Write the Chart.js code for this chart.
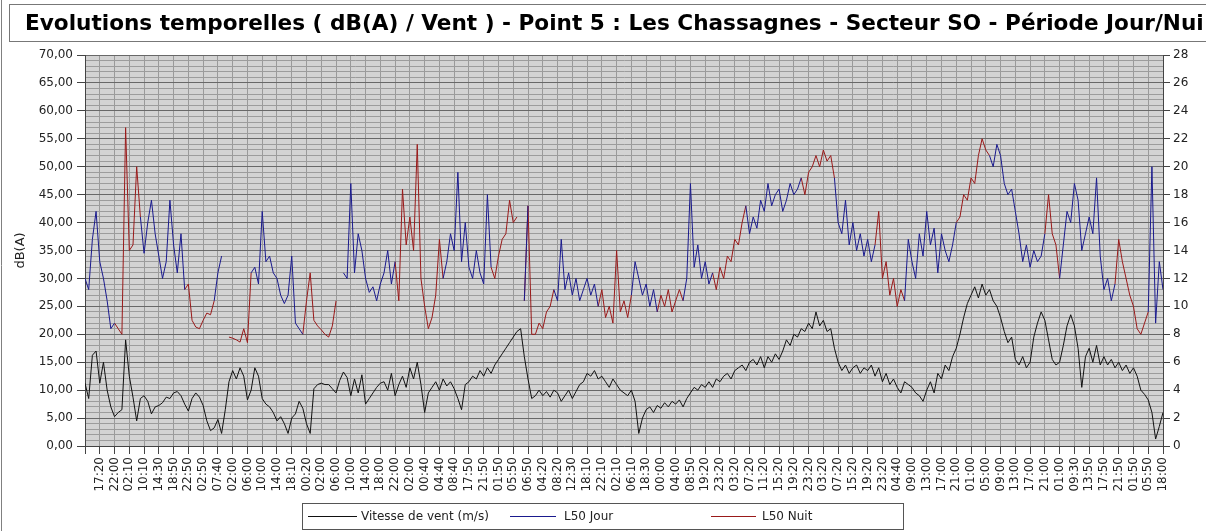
<!DOCTYPE html>
<html><head><meta charset="utf-8">
<script src="https://cdn.jsdelivr.net/npm/chart.js@4/dist/chart.umd.min.js"></script>
<style>
html,body{margin:0;padding:0;background:#fff;}
canvas{display:block;}
</style></head>
<body>
<canvas id="c" width="1206" height="531"></canvas>
<script>
const titleText = 'Evolutions temporelles ( dB(A) / Vent ) - Point 5 : Les Chassagnes - Secteur SO - Période Jour/Nuit';
const yTitle = 'dB(A)';
const legendLabels = ['Vitesse de vent (m/s)', 'L50 Jour', 'L50 Nuit'];

const tickLabels = ['17:20','22:00','02:10','10:10','14:30','18:50','22:50','02:50','07:40','02:00',
  '06:00','10:00','14:00','18:10','00:20','02:00','06:00','10:00','14:00','18:00',
  '22:00','02:00','00:40','04:40','08:40','17:50','21:50','01:50','05:50','06:50',
  '04:20','08:20','12:30','18:10','22:10','02:10','06:10','18:30','00:00','04:00',
  '08:50','19:20','23:20','03:20','07:20','11:20','15:20','19:20','23:20','03:20',
  '07:20','15:20','19:20','23:20','04:40','09:00','13:00','17:00','21:00','01:00',
  '05:00','09:00','13:00','17:00','21:00','01:00','09:30','13:50','17:50','21:50',
  '01:50','05:50','18:00'];
const pointsPerLabel = 4;

const windSpeed = [
  4.5,3.4,6.5,6.8,4.5,6.0,4.0,2.8,2.1,2.4,
  2.6,7.6,5.0,3.5,1.8,3.4,3.6,3.2,2.3,2.8,
  2.9,3.1,3.5,3.4,3.8,3.9,3.6,3.0,2.5,3.4,
  3.8,3.5,2.9,1.8,1.1,1.3,1.9,0.9,2.6,4.6,
  5.4,4.8,5.6,5.0,3.3,4.0,5.6,5.0,3.4,3.0,
  2.8,2.4,1.8,2.1,1.6,0.9,2.0,2.3,3.2,2.7,
  1.6,0.9,4.1,4.4,4.5,4.4,4.4,4.1,3.8,4.7,
  5.3,4.9,3.6,4.8,3.8,5.1,3.0,3.4,3.8,4.2,
  4.5,4.6,4.0,5.2,3.6,4.4,5.0,4.2,5.6,4.8,
  6.0,4.4,2.4,3.8,4.2,4.6,4.0,4.8,4.3,4.6,
  4.1,3.4,2.6,4.4,4.6,5.0,4.8,5.4,5.0,5.6,
  5.2,5.8,6.2,6.6,7.0,7.4,7.8,8.2,8.4,6.4,
  4.8,3.4,3.6,4.0,3.6,3.9,3.5,4.0,3.8,3.2,
  3.6,4.0,3.4,3.9,4.4,4.6,5.2,5.0,5.4,4.8,
  5.0,4.6,4.2,4.8,4.4,4.0,3.8,3.6,4.0,3.2,
  0.9,2.0,2.6,2.8,2.4,2.9,2.7,3.1,2.8,3.2,
  3.0,3.3,2.8,3.4,3.8,4.2,4.0,4.4,4.2,4.6,
  4.2,4.8,4.6,5.0,5.2,4.8,5.4,5.6,5.8,5.4,
  6.0,6.2,5.8,6.4,5.6,6.4,6.0,6.6,6.2,6.8,
  7.6,7.2,8.0,7.8,8.4,8.2,8.8,8.4,9.6,8.6,
  9.0,8.2,8.4,7.0,6.0,5.4,5.8,5.2,5.6,5.8,
  5.2,5.6,5.4,5.8,5.0,5.6,4.6,5.2,4.4,4.8,
  4.2,3.8,4.6,4.4,4.2,3.8,3.6,3.2,4.0,4.6,
  3.8,5.2,4.8,5.8,5.4,6.4,7.0,8.0,9.2,10.2,
  10.8,11.4,10.6,11.6,10.8,11.2,10.4,10.0,9.2,8.2,
  7.4,7.8,6.2,5.8,6.4,5.6,6.0,7.8,8.8,9.6,
  9.0,7.6,6.2,5.8,6.0,7.2,8.6,9.4,8.6,7.0,
  4.2,6.4,7.0,6.0,7.2,5.8,6.4,5.8,6.2,5.6,
  6.0,5.4,5.8,5.2,5.6,5.0,4.0,3.7,3.3,2.4,
  0.5,1.4,2.4];

const l50 = [
  30,28,37,42,33,30,26,21,22,21,
  20,57,35,36,50,41,34.5,40,44,38,
  34,30,33,44,36,31,38,28,29,22.5,
  21.3,21,22.5,23.8,23.5,26,31,34,null,19.5,
  19.3,19,18.6,21,18.5,31,32,29,42,33,
  34,31,30,27,25.5,27,34,22,21,20,
  26,31,22.5,21.5,20.8,20,19.5,21.5,26,null,
  31,30,47,31,38,35,30,27.5,28.5,26,
  29,31,35,29,33,26,46,36,41,35,
  54,30,25,21,23,27,37,30,33,38,
  35,49,33,40,32,30,35,31,29,45,
  32,30,34,37,38,44,40,41,null,26,
  43,20,20,22,21,24,25,28,26,37,
  28,31,27,30,26,28,30,27,29,25,
  28,23,25,22,35,24,26,23,27,33,
  30,27,29,25,28,24,27,25,28,24,
  26,28,26,30,47,32,36,30,33,29,
  31,28,32,30,34,33,37,36,40,43,
  38,41,39,44,42,47,43,45,46,42,
  44,47,45,46,48,45,49,50,52,50,
  53,51,52,48,40,38,44,36,40,35,
  38,34,37,33,36,42,30,33,27,30,
  25,28,26,37,33,30,38,34,42,36,
  39,31,38,35,33,36,40,41,45,44,
  48,47,52,55,53,52,50,54,52,47,
  45,46,42,38,33,36,32,35,33,34,
  38,45,38,36,30,36,42,40,47,44,
  35,38,41,38,48,34,28,30,26,29,
  37,33,30,27,25,21,20,22,24,50,
  22,33,28];

// period of each L50 sample: J = jour, N = nuit, - = no data (runs of equal periods)
const periodRuns = [['J',9],['N',7],['J',12],['N',8],['J',2],['-',1],['N',7],['J',14],['N',9],['-',1],
  ['J',15],['N',8],['N',5],['J',13],['N',7],['-',1],['N',1],['J',1],['N',7],
  ['J',12],['N',9],['J',7],['N',7],['J',8],['N',9],['J',15],['N',9],['J',11],['N',8],
  ['J',14],['N',9],['J',15],['N',4],['J',15],['N',9],['J',4]];

const period = [];
periodRuns.forEach(([p, n]) => { for (let k = 0; k < n; k++) period.push(p); });
function seriesFor(code) {
  return l50.map((v, i) => ({x: i, y: (v !== null && (period[i] === code || period[i + 1] === code)) ? v : null}));
}
const jourData = seriesFor('J');
const nuitData = seriesFor('N');
const windData = windSpeed.map((v, i) => ({x: i, y: v}));
const lastIndex = tickLabels.length * pointsPerLabel;

const COL_WIND = '#111111', COL_JOUR = '#1a1a8e', COL_NUIT = '#9a1a1a';
const FONT = "'DejaVu Sans', sans-serif";

const decor = {
  id: 'decor',
  beforeDraw(chart) {
    const {ctx, chartArea: a} = chart;
    ctx.save();
    ctx.fillStyle = '#d3d3d3';
    ctx.fillRect(a.left, a.top, a.right - a.left, a.bottom - a.top);
    ctx.restore();
  },
  afterDraw(chart) {
    const {ctx} = chart;
    ctx.save();
    ctx.strokeStyle = '#808080';
    ctx.lineWidth = 1;
    ctx.beginPath(); ctx.moveTo(1.5, 0); ctx.lineTo(1.5, 531); ctx.stroke();
    // title box
    ctx.strokeStyle = '#777';
    ctx.fillStyle = '#fff';
    ctx.fillRect(9.5, 4.5, 1300, 37);
    ctx.strokeRect(9.5, 4.5, 1300, 37);
    ctx.save();
    ctx.beginPath(); ctx.rect(10, 5, 1194, 36); ctx.clip();
    ctx.fillStyle = '#000';
    ctx.font = "bold 21.6px " + FONT;
    ctx.textBaseline = 'alphabetic';
    ctx.textAlign = 'left';
    ctx.fillText(titleText, 25, 30);
    ctx.restore();
    // legend box
    ctx.strokeStyle = '#555';
    ctx.fillStyle = '#fff';
    ctx.fillRect(302.5, 503.5, 601, 26);
    ctx.strokeRect(302.5, 503.5, 601, 26);
    const items = [
      {x1: 308, x2: 357, tx: 361, c: COL_WIND},
      {x1: 510, x2: 556, tx: 564, c: COL_JOUR},
      {x1: 711, x2: 756, tx: 762, c: COL_NUIT}
    ];
    ctx.font = "12px " + FONT;
    ctx.textBaseline = 'middle';
    items.forEach((it, k) => {
      ctx.strokeStyle = it.c;
      ctx.beginPath(); ctx.moveTo(it.x1, 516.5); ctx.lineTo(it.x2, 516.5); ctx.stroke();
      ctx.fillStyle = '#222';
      ctx.fillText(legendLabels[k], it.tx, 517);
    });
    ctx.restore();
  }
};

new Chart(document.getElementById('c'), {
  type: 'line',
  data: {
    datasets: [
      {label: legendLabels[1], data: jourData, yAxisID: 'y', borderColor: COL_JOUR, borderWidth: 1, pointRadius: 0, tension: 0, spanGaps: false},
      {label: legendLabels[2], data: nuitData, yAxisID: 'y', borderColor: COL_NUIT, borderWidth: 1, pointRadius: 0, tension: 0, spanGaps: false},
      {label: legendLabels[0], data: windData, yAxisID: 'y2', borderColor: COL_WIND, borderWidth: 1, pointRadius: 0, tension: 0}
    ]
  },
  options: {
    responsive: false,
    animation: false,
    devicePixelRatio: 1,
    layout: {padding: {top: 55, left: 0, right: 0, bottom: 0}},
    plugins: {legend: {display: false}, tooltip: {enabled: false}, title: {display: false}},
    scales: {
      x: {
        type: 'linear', min: 0, max: lastIndex,
        afterFit(s) { s.height = 85; },
        ticks: {
          stepSize: pointsPerLabel, autoSkip: false, maxRotation: 90, minRotation: 90,
          padding: 3, color: '#222', font: {family: FONT, size: 12},
          callback(v) { const j = Math.round(v / pointsPerLabel); return j >= 1 ? tickLabels[j - 1] : ''; }
        },
        grid: {color: '#9a9a9a', tickLength: 8, tickColor: '#444'},
        border: {color: '#444'}
      },
      y: {
        position: 'left', min: 0, max: 70,
        afterFit(s) { s.width = 85; },
        title: {display: true, text: yTitle, color: '#222', font: {family: FONT, size: 13}, padding: {top: 13, bottom: 0}},
        ticks: {
          stepSize: 1, autoSkip: false, padding: 4, color: '#222', font: {family: FONT, size: 12},
          callback(v) { return v % 5 === 0 ? v.toFixed(2).replace('.', ',') : ''; }
        },
        grid: {
          color: (c) => (c.tick && c.tick.value % 5 === 0) ? '#686868' : '#9c9c9c',
          tickColor: (c) => (c.tick && c.tick.value % 5 === 0) ? '#444' : 'rgba(0,0,0,0)',
          tickLength: 8
        },
        border: {color: '#444'}
      },
      y2: {
        position: 'right', min: 0, max: 28,
        afterFit(s) { s.width = 43; },
        ticks: {stepSize: 2, autoSkip: false, padding: 3, color: '#222', font: {family: FONT, size: 12}},
        grid: {drawOnChartArea: false, tickLength: 7, tickColor: '#444'},
        border: {color: '#444'}
      }
    }
  },
  plugins: [decor]
});
</script>
</body></html>
